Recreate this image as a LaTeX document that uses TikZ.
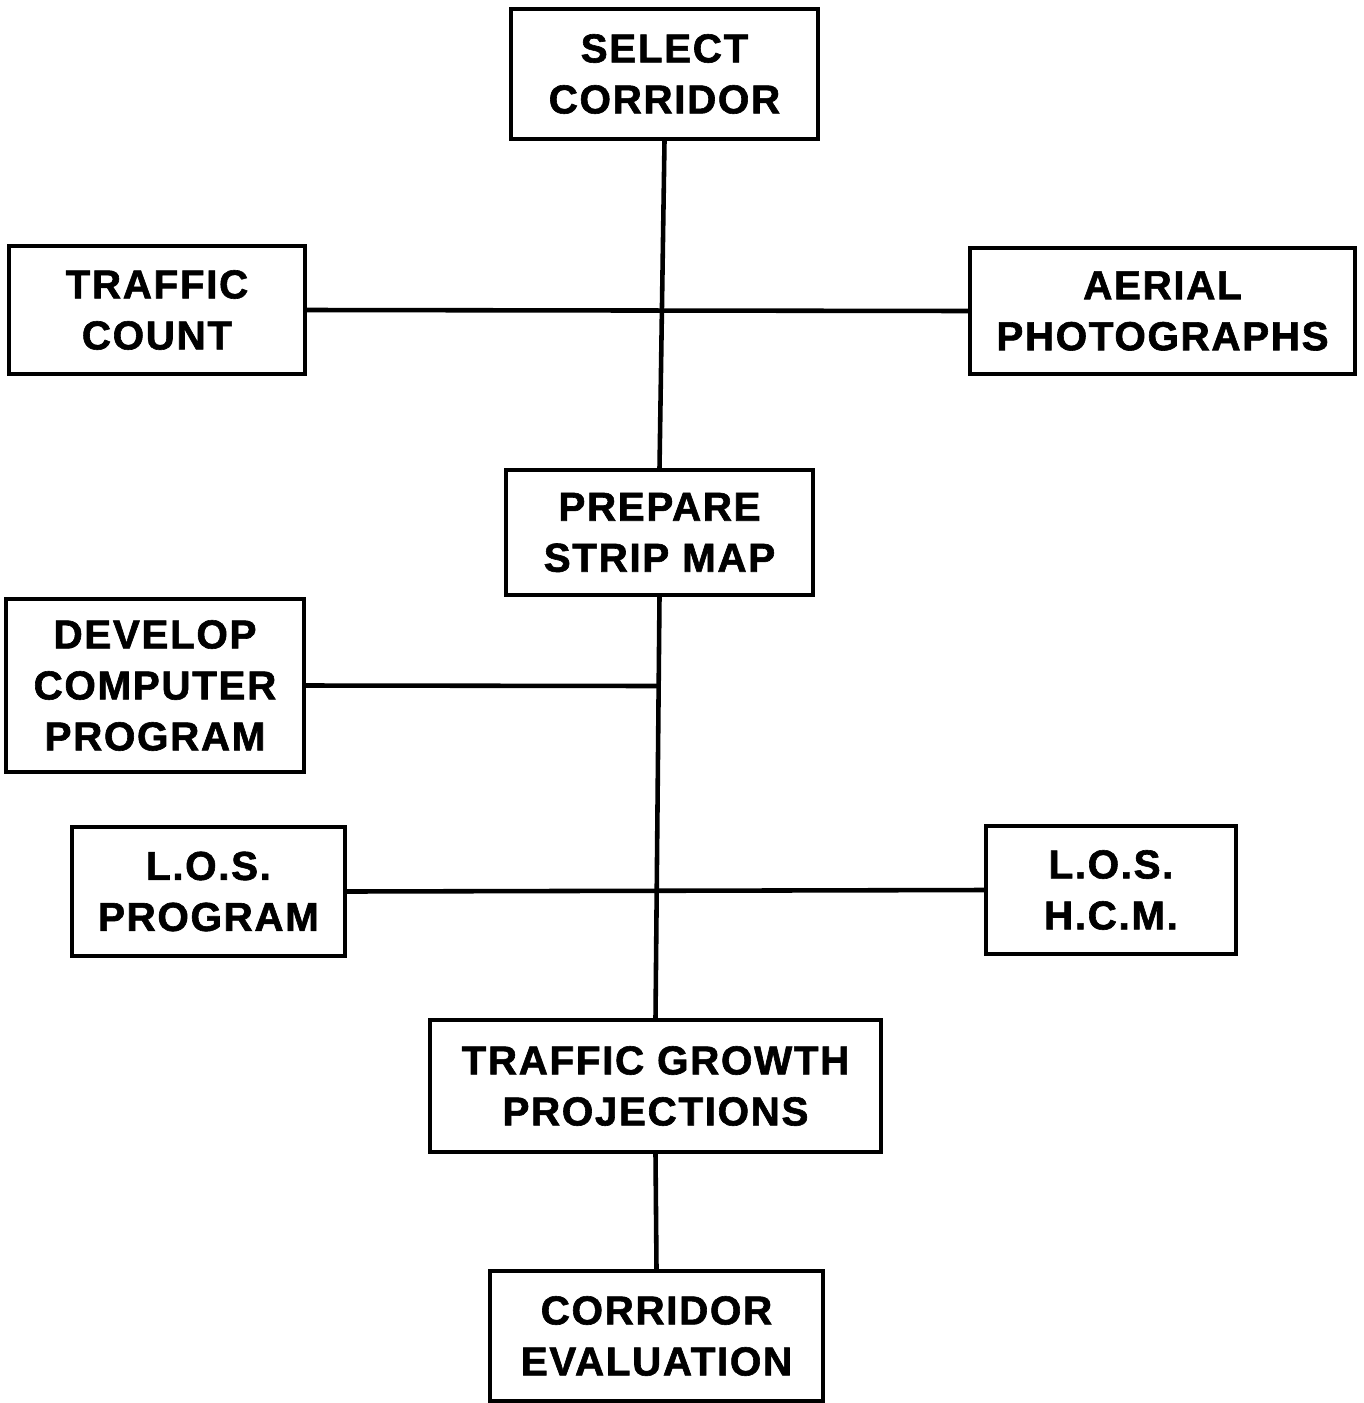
\documentclass[tikz,border=0pt]{standalone}
\usepackage{fontspec}
\newfontfamily\labfont{Liberation Sans}[LetterSpace=4,FakeBold=1.5]
\tikzset{
  box/.style={draw, line width=1.1pt, align=center, inner sep=0pt,
    font=\labfont\bfseries\fontsize{11.5pt}{14.5pt}\selectfont},
  link/.style={line width=1.3pt}
}
\begin{document}
\begin{tikzpicture}[x=0.01cm,y=-0.01cm]
\useasboundingbox (0,0) rectangle (1363,1403);
\node[box, minimum width=3.07cm, minimum height=1.30cm] (sel) at (664.5,74) {SELECT\\CORRIDOR};
\node[box, minimum width=2.96cm, minimum height=1.28cm] (tc) at (157,310) {TRAFFIC\\COUNT};
\node[box, minimum width=3.85cm, minimum height=1.26cm] (ap) at (1162.5,311) {AERIAL\\PHOTOGRAPHS};
\node[box, minimum width=3.07cm, minimum height=1.25cm] (psm) at (659.5,532.5) {PREPARE\\STRIP MAP};
\node[box, minimum width=2.98cm, minimum height=1.73cm] (dcp) at (155,685.5) {DEVELOP\\COMPUTER\\PROGRAM};
\node[box, minimum width=2.73cm, minimum height=1.29cm] (lp) at (208.5,891.5) {L.O.S.\\PROGRAM};
\node[box, minimum width=2.50cm, minimum height=1.28cm] (lh) at (1111,890) {L.O.S.\\H.C.M.};
\node[box, minimum width=4.51cm, minimum height=1.32cm] (tgp) at (655.5,1086) {TRAFFIC GROWTH\\PROJECTIONS};
\node[box, minimum width=3.33cm, minimum height=1.30cm] (ce) at (656.5,1336) {CORRIDOR\\EVALUATION};
\coordinate (j2) at (658,686);
\draw[link] (sel.south) -- (psm.north);
\draw[link] (tc.east) -- (ap.west);
\draw[link] (psm.south) -- (tgp.north);
\draw[link] (dcp.east) -- (j2);
\draw[link] (lp.east) -- (lh.west);
\draw[link] (tgp.south) -- (ce.north);
\end{tikzpicture}
\end{document}
